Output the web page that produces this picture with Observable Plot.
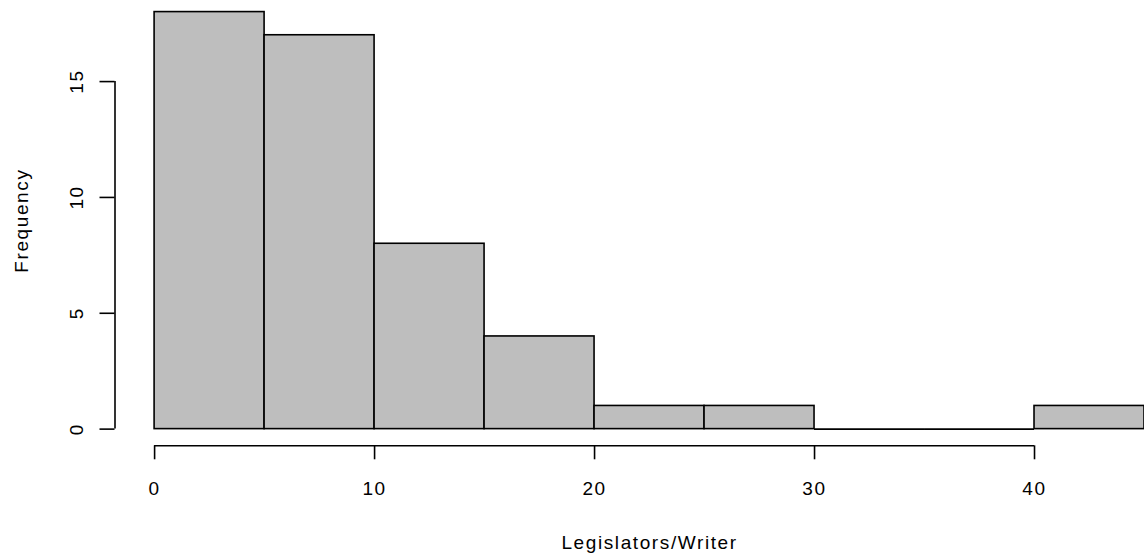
<!DOCTYPE html>
<html><head><meta charset="utf-8">
<script src="https://cdn.jsdelivr.net/npm/d3@7"></script>
<script src="https://cdn.jsdelivr.net/npm/@observablehq/plot@0.6"></script>
<style>html,body{margin:0;padding:0;background:#fff}</style>
</head><body><div id="chart"></div>
<script>
// Histogram data
const binStart = [0, 5, 10, 15, 20, 25, 30, 35, 40];
const binEnd = [5, 10, 15, 20, 25, 30, 35, 40, 45];
const frequency = [18, 17, 8, 4, 1, 1, 0, 0, 1];
const xTicks = [0, 10, 20, 30, 40];
const yTicks = [0, 5, 10, 15];
const xTitle = "Legislators/Writer";
const yTitle = "Frequency";

const bins = binStart.map((s, i) => ({x1: s, x2: binEnd[i], count: frequency[i]}));
// R-style 4% axis extension
const xMin = d3.min(binStart), xMax = d3.max(binEnd), yMax = d3.max(frequency);
const xLim = [xMin - 0.04 * (xMax - xMin), xMax + 0.04 * (xMax - xMin)];
const yLim = [0 - 0.04 * yMax, yMax + 0.04 * yMax];

const plot = Plot.plot({
  width: 1144,
  height: 556,
  marginLeft: 114.5,
  marginBottom: 110.7,
  marginTop: 0,
  marginRight: 0,
  x: {domain: xLim, range: [114.5, 1183.6]},
  y: {domain: yLim, range: [445.3, -5.1]},
  style: {fontFamily: '"Liberation Sans", Arial, sans-serif', fontSize: "19px", letterSpacing: "1.6px", overflow: "hidden", background: "#fff", color: "#000"},
  marks: [
    Plot.rect(bins.filter(d => d.count > 0), {x1: "x1", x2: "x2", y1: 0, y2: "count", fill: "#bebebe", stroke: "#000", strokeWidth: 1.6}),
    Plot.ruleY(bins.filter(d => d.count === 0), {x1: "x1", x2: "x2", y: 0, stroke: "#000", strokeWidth: 1.6}),
    Plot.ruleY([yLim[0]], {x1: xTicks[0], x2: xTicks[xTicks.length - 1], stroke: "#000", strokeWidth: 1.6}),
    Plot.ruleX([xLim[0]], {y1: yTicks[0], y2: yTicks[yTicks.length - 1], stroke: "#000", strokeWidth: 1.6}),
    Plot.axisX({ticks: xTicks, tickSize: 14, tickPadding: 22, strokeWidth: 1.6, label: null, tickFormat: d => String(d)}),
    Plot.axisY({ticks: yTicks, tickSize: 15, tickPadding: 17.5, tickRotate: -90, strokeWidth: 1.6, label: null, tickFormat: d => String(d)}),
    Plot.text([{t: xTitle, x: (xLim[0] + xLim[1]) / 2, y: yLim[0]}], {x: "x", y: "y", text: "t", lineAnchor: "bottom", dy: 102.7}),
    Plot.text([{t: yTitle, x: xLim[0], y: (yLim[0] + yLim[1]) / 2}], {x: "x", y: "y", text: "t", rotate: -90, lineAnchor: "bottom", dx: -87})
  ]
});
document.getElementById("chart").appendChild(plot);
</script>
</body></html>
